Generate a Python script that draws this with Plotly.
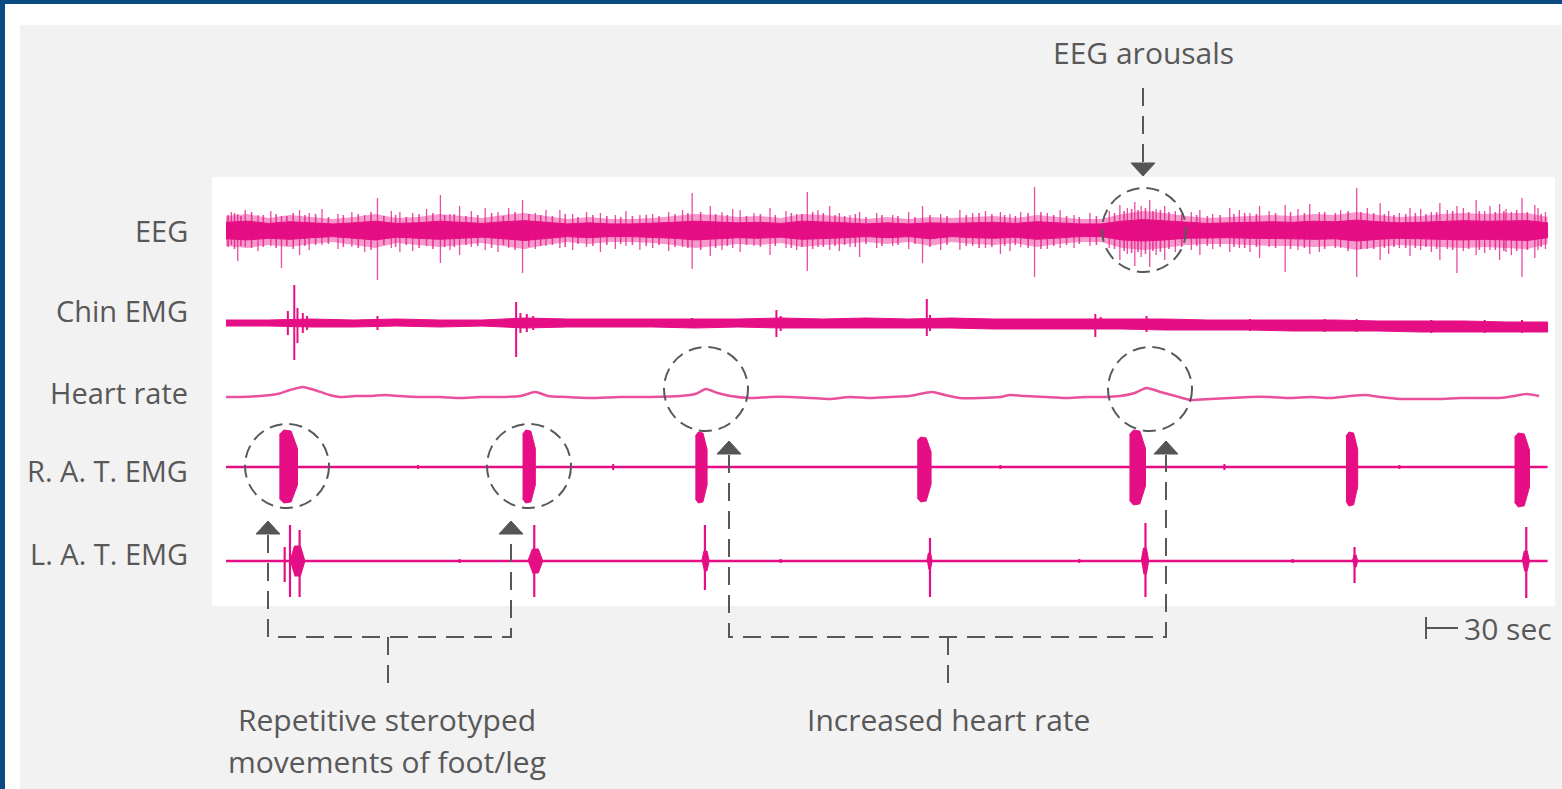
import plotly.graph_objects as go

# ---------------- DATA (time in seconds, amplitudes in display units, + = up) ----------------
channel_labels = ["EEG", "Chin EMG", "Heart rate", "R. A. T. EMG", "L. A. T. EMG"]

# EEG band: outer extent of the dense trace
eeg_t = [0, 20, 40, 60, 80, 100, 120, 140, 160, 180, 200, 220, 240, 260, 280, 300, 320, 340, 360, 380,
         400, 420, 440, 460, 480, 500, 520, 540, 560, 580, 600, 620, 640, 660, 680, 700, 720, 740, 760, 780,
         800, 820, 840, 860, 880, 900, 920, 940, 960, 980, 1000, 1020, 1040, 1060, 1080, 1100, 1120, 1140,
         1160, 1180, 1200, 1220, 1239]
eeg_hi = [14, 16, 12, 15, 13, 11, 13, 16, 12, 13, 16, 14, 12, 15, 17, 14, 11, 13, 11, 11,
          12, 14, 16, 15, 13, 14, 12, 16, 15, 13, 11, 13, 11, 13, 12, 13, 14, 12, 15, 13,
          11, 11, 16, 19, 17, 14, 12, 13, 14, 15, 14, 16, 15, 18, 15, 13, 14, 16,
          17, 16, 17, 17, 13]
eeg_lo = [16, 18, 15, 17, 14, 12, 15, 18, 13, 15, 17, 15, 13, 16, 19, 15, 12, 14, 12, 12,
          13, 15, 18, 16, 14, 15, 13, 17, 15, 14, 12, 14, 12, 16, 12, 14, 15, 13, 17, 14,
          12, 12, 18, 20, 18, 15, 14, 14, 15, 16, 16, 17, 16, 20, 17, 15, 16, 17,
          18, 17, 18, 19, 14]
# EEG spikes: time, up, down
eeg_spk_t = [11, 52, 69, 142, 163, 201, 219, 243, 278, 313, 351, 388, 437, 454, 482, 510, 545, 566, 594,
             653, 688, 726, 758, 782, 838, 852, 866, 880, 913, 941, 969, 993, 1016, 1060, 1082, 1110,
             1138, 1154, 1172, 1194, 1215, 1227,
             5, 18, 30, 42, 78, 90, 105, 118, 130, 155, 175, 188, 210, 230, 255, 265, 290, 300, 325, 338,
             365, 375, 400, 415, 428, 465, 475, 495, 525, 535, 555, 575, 585, 610, 625, 640, 670, 700,
             712, 735, 745, 770, 795, 810, 828, 845, 858, 872, 890, 905, 925, 950, 960, 978, 1005, 1025,
             1045, 1070, 1090, 1100, 1120, 1130, 1145, 1160, 1180, 1185, 1200, 1205, 1230, 1237]
eeg_spk_up = [16, 14, 20, 32, 18, 35, 24, 22, 30, 20, 17, 15, 37, 24, 20, 22, 38, 24, 18,
              24, 20, 18, 43, 20, 25, 28, 30, 24, 20, 22, 24, 25, 26, 42, 27, 22,
              27, 24, 30, 26, 32, 25,
              18, 20, 15, 19, 17, 21, 16, 18, 15, 19, 17, 21, 16, 19, 18, 22, 17, 20, 16, 18,
              15, 19, 16, 18, 20, 18, 21, 17, 19, 16, 20, 17, 15, 17, 15, 18, 16, 17,
              19, 16, 18, 17, 15, 17, 19, 22, 24, 21, 19, 18, 16, 20, 17, 19, 21, 18,
              20, 22, 19, 17, 21, 18, 20, 22, 19, 24, 21, 18, 22, 18]
eeg_spk_dn = [31, 38, 25, 50, 22, 33, 25, 20, 43, 18, 22, 20, 39, 26, 22, 25, 41, 20, 27,
              33, 20, 24, 47, 18, 30, 36, 37, 30, 25, 22, 28, 42, 24, 47, 30, 26,
              30, 43, 25, 30, 47, 28,
              15, 17, 21, 16, 20, 15, 19, 17, 22, 18, 21, 16, 20, 17, 22, 18, 19, 16, 20, 17,
              19, 16, 18, 21, 17, 20, 18, 16, 18, 20, 17, 21, 17, 18, 16, 19, 20, 16,
              18, 21, 17, 19, 18, 16, 18, 24, 27, 25, 22, 20, 19, 18, 22, 17, 20, 22,
              18, 19, 24, 18, 20, 22, 19, 21, 23, 20, 22, 25, 20, 19]
# EEG fine hairs (short excursions just beyond the dense band)
eeg_hair_t = [2, 8, 14, 24, 35, 47, 57, 63, 74, 84, 96, 110, 124, 136, 148, 159, 169, 181, 194, 205,
              214, 225, 236, 249, 260, 271, 284, 295, 306, 318, 330, 344, 357, 370, 381, 394, 406, 421,
              433, 445, 459, 470, 488, 501, 515, 530, 540, 550, 560, 571, 580, 590, 600, 615, 630, 646,
              660, 676, 694, 706, 718, 730, 740, 752, 764, 776, 788, 800, 816, 833, 842, 849, 855, 862,
              869, 876, 884, 896, 910, 920, 932, 945, 955, 966, 984, 998, 1011, 1030, 1040, 1052, 1064,
              1076, 1086, 1095, 1106, 1115, 1125, 1135, 1150, 1165, 1175, 1190, 1198, 1210, 1220, 1233]
eeg_hair_up = [15, 17, 14, 18, 15, 16, 14, 17, 15, 16, 13, 15, 16, 18, 14, 15, 13, 16, 17, 15,
               16, 14, 15, 17, 14, 18, 16, 15, 14, 16, 13, 15, 14, 13, 14, 15, 14, 16,
               17, 18, 16, 15, 14, 16, 15, 17, 16, 18, 17, 15, 14, 16, 13, 15, 14, 13,
               15, 14, 15, 17, 16, 15, 14, 17, 18, 15, 14, 13, 14, 17, 19, 21, 20, 22,
               19, 20, 18, 16, 15, 14, 15, 16, 17, 16, 17, 18, 17, 18, 17, 19, 18,
               17, 16, 15, 16, 17, 16, 18, 19, 18, 19, 18, 19, 20, 18, 16]
eeg_hair_dn = [17, 19, 16, 18, 17, 18, 16, 19, 16, 15, 14, 17, 18, 20, 15, 17, 15, 18, 19, 17,
               17, 15, 16, 18, 15, 20, 17, 16, 15, 17, 14, 16, 15, 14, 15, 16, 15, 17,
               18, 20, 18, 16, 15, 17, 16, 18, 17, 19, 17, 16, 15, 17, 14, 16, 15, 14,
               17, 15, 16, 18, 17, 16, 15, 18, 19, 16, 15, 14, 15, 19, 21, 23, 22, 24,
               21, 22, 19, 17, 16, 16, 17, 17, 18, 17, 18, 19, 18, 19, 18, 21, 19,
               19, 18, 17, 18, 18, 17, 19, 20, 19, 20, 20, 21, 21, 20, 17]

# Chin EMG envelope and spikes
chin_t = [0, 40, 80, 120, 160, 200, 240, 280, 320, 360, 400, 440, 480, 520, 560, 600, 640, 680, 720, 760,
          800, 840, 880, 920, 960, 1000, 1040, 1080, 1120, 1160, 1200, 1239]
chin_hi = [3, 3, 4, 3, 4, 3, 3, 5, 4, 4, 4, 4, 4, 5, 4, 5, 4, 5, 4, 4, 4, 4, 4, 3, 3, 3, 3, 2, 2, 2, 1, 1]
chin_lo = [3, 3, 4, 4, 3, 4, 3, 5, 4, 4, 4, 5, 4, 5, 5, 5, 5, 5, 6, 6, 6, 6, 7, 7, 7, 8, 8, 8, 9, 9, 9, 9]
chin_spk_t = [58, 64, 67, 72, 76, 142, 272, 276, 282, 288, 437, 516, 520, 657, 660, 815, 820, 863,
              900, 960, 1030, 1060, 1130, 1180, 1215]
chin_spk_up = [12, 38, 15, 10, 7, 7, 21, 10, 9, 7, 5, 13, 7, 24, 8, 9, 6, 7, 4, 4, 4, 4, 3, 3, 3]
chin_spk_dn = [12, 37, 20, 10, 7, 7, 34, 10, 9, 7, 5, 14, 8, 13, 8, 14, 6, 9, 7, 8, 9, 9, 10, 10, 10]

# Heart rate trace
hr_t = [0, 13, 32, 48, 60, 72, 83, 97, 107, 121, 135, 149, 163, 182, 201, 219, 238, 257, 276, 290, 302,
        318, 341, 369, 398, 426, 440, 450, 461, 473, 491, 510, 529, 548, 566, 585, 604, 623, 641, 662,
        674, 688, 707, 726, 735, 749, 768, 787, 805, 824, 838, 852, 863, 876, 890, 904, 923, 941, 960,
        979, 998, 1016, 1035, 1054, 1068, 1082, 1101, 1119, 1138, 1157, 1176, 1194, 1208, 1219, 1231]
hr_v = [0, 0, 1, 3, 7, 10, 7, 2, 0, 1, 1, 2, 1, 0, 0, -1, 0, 0, 1, 5, 1,
        0, -1, 0, 0, 1, 3, 8, 4, 1, -1, 0, 0, -1, -2, 0, -1, 0, 1, 5,
        2, -1, -1, 0, 2, 1, 0, -1, 0, 0, 1, 4, 9, 5, 1, -3, -2, -1, 0,
        0, -1, 0, -1, 1, 2, 0, -2, -2, -2, -1, -1, -1, 1, 3, 1]

# Right anterior tibialis EMG bursts
rat_t0 = [50, 278, 440, 648, 847, 1050, 1208]
rat_t1 = [67, 290, 451, 661, 862, 1061, 1222]
rat_up = [37, 37, 35, 30, 37, 35, 34]
rat_dn = [36, 36, 36, 35, 38, 39, 40]
rat_blip_t = [180, 363, 726, 936, 1100]
rat_blip_a = [2, 3, 2, 3, 2]

# Left anterior tibialis EMG bursts
lat_t0 = [60, 283, 446, 657, 858, 1056, 1215]
lat_t1 = [74, 297, 453, 662, 865, 1061, 1222]
lat_core = [15, 12, 10, 8, 13, 6, 10]
lat_spk_t = [55, 60, 69, 289, 449, 660, 862, 1058, 1219]
lat_spk_up = [14, 36, 31, 36, 36, 23, 38, 14, 34]
lat_spk_dn = [21, 36, 36, 36, 29, 36, 36, 22, 37]
lat_blip_t = [219, 520, 800, 1000]
lat_blip_a = [2, 2, 2, 2]

T_END = 1239

# ---------------- LAYOUT / STYLE ----------------
W, H = 1562, 789
PX0 = 226            # pixel column of t = 0
SEC_PER_PX = 30 / 32  # 30 sec scale bar = 32 px
BASE = {"EEG": 230, "Chin EMG": 323, "Heart rate": 397, "R. A. T. EMG": 467, "L. A. T. EMG": 561}
LABEL_Y = {"EEG": 230, "Chin EMG": 310, "Heart rate": 392, "R. A. T. EMG": 470, "L. A. T. EMG": 553}
MAG = "#e60e84"
MAG_T = "rgba(230,14,132,0.75)"
MAG_FUZZ = "rgba(230,14,132,0.42)"
CORE = 0.55
HR_COL = "#e9519c"
GREY = "#585858"
FONT = "'Open Sans', Lato, sans-serif"


def X(px):
    return (px - PX0) * SEC_PER_PX


def band(t, hi, lo, base, k=1.0):
    xs = list(t) + list(t)[::-1]
    ys = [base - h * k for h in hi] + [base + l * k for l in lo][::-1]
    return xs, ys


def spikes(t, up, dn, base):
    xs, ys = [], []
    for ti, u, d in zip(t, up, dn):
        xs += [ti, ti, None]
        ys += [base - u, base + d, None]
    return xs, ys


fig = go.Figure()

# EEG: translucent outer band, solid core, hairs, spikes
bx, by = band(eeg_t, eeg_hi, eeg_lo, BASE["EEG"])
fig.add_trace(go.Scatter(x=bx, y=by, mode="lines", fill="toself", fillcolor=MAG_FUZZ,
                         line=dict(color="rgba(0,0,0,0)", width=0), hoverinfo="skip"))
bx, by = band(eeg_t, eeg_hi, eeg_lo, BASE["EEG"], CORE)
fig.add_trace(go.Scatter(x=bx, y=by, mode="lines", fill="toself", fillcolor=MAG,
                         line=dict(color=MAG, width=1), hoverinfo="skip"))
sx, sy = spikes(eeg_hair_t, eeg_hair_up, eeg_hair_dn, BASE["EEG"])
fig.add_trace(go.Scatter(x=sx, y=sy, mode="lines", line=dict(color=MAG_T, width=1.6), hoverinfo="skip"))
sx, sy = spikes(eeg_spk_t, eeg_spk_up, eeg_spk_dn, BASE["EEG"])
fig.add_trace(go.Scatter(x=sx, y=sy, mode="lines", line=dict(color=MAG_T, width=1.3), hoverinfo="skip"))

# Chin EMG
bx, by = band(chin_t, chin_hi, chin_lo, BASE["Chin EMG"])
fig.add_trace(go.Scatter(x=bx, y=by, mode="lines", fill="toself", fillcolor=MAG,
                         line=dict(color=MAG, width=1), hoverinfo="skip"))
sx, sy = spikes(chin_spk_t, chin_spk_up, chin_spk_dn, BASE["Chin EMG"])
fig.add_trace(go.Scatter(x=sx, y=sy, mode="lines", line=dict(color=MAG, width=2), hoverinfo="skip"))

# Heart rate
fig.add_trace(go.Scatter(x=hr_t, y=[BASE["Heart rate"] - v for v in hr_v], mode="lines",
                         line=dict(color=HR_COL, width=2.5, shape="spline", smoothing=0.6), hoverinfo="skip"))

# R.A.T. EMG
b = BASE["R. A. T. EMG"]
fig.add_trace(go.Scatter(x=[0, T_END], y=[b, b], mode="lines", line=dict(color=MAG, width=2.5), hoverinfo="skip"))
sx, sy = spikes(rat_blip_t, rat_blip_a, rat_blip_a, b)
fig.add_trace(go.Scatter(x=sx, y=sy, mode="lines", line=dict(color=MAG, width=2), hoverinfo="skip"))
px_, py_ = [], []
for t0, t1, u, d in zip(rat_t0, rat_t1, rat_up, rat_dn):
    w = t1 - t0
    pts = [(t0, u * 0.88), (t0 + 0.25 * w, u), (t1 - 0.35 * w, u * 0.97), (t1, u * 0.5),
           (t1, -d * 0.5), (t1 - 0.35 * w, -d * 0.97), (t0 + 0.25 * w, -d), (t0, -d * 0.88)]
    px_ += [p[0] for p in pts] + [None]
    py_ += [b - p[1] for p in pts] + [None]
fig.add_trace(go.Scatter(x=px_, y=py_, mode="lines", fill="toself", fillcolor=MAG,
                         line=dict(color=MAG, width=1), hoverinfo="skip"))

# L.A.T. EMG
b = BASE["L. A. T. EMG"]
fig.add_trace(go.Scatter(x=[0, T_END], y=[b, b], mode="lines", line=dict(color=MAG, width=2.5), hoverinfo="skip"))
sx, sy = spikes(lat_blip_t, lat_blip_a, lat_blip_a, b)
fig.add_trace(go.Scatter(x=sx, y=sy, mode="lines", line=dict(color=MAG, width=2), hoverinfo="skip"))
px_, py_ = [], []
for t0, t1, c in zip(lat_t0, lat_t1, lat_core):
    w = t1 - t0
    pts = [(t0, 0), (t0 + 0.3 * w, c), (t1 - 0.3 * w, c), (t1, 0), (t1 - 0.3 * w, -c), (t0 + 0.3 * w, -c)]
    px_ += [p[0] for p in pts] + [None]
    py_ += [b - p[1] for p in pts] + [None]
fig.add_trace(go.Scatter(x=px_, y=py_, mode="lines", fill="toself", fillcolor=MAG,
                         line=dict(color=MAG, width=1), hoverinfo="skip"))
sx, sy = spikes(lat_spk_t, lat_spk_up, lat_spk_dn, b)
fig.add_trace(go.Scatter(x=sx, y=sy, mode="lines", line=dict(color=MAG, width=2.2), hoverinfo="skip"))

# ---------------- Backgrounds, annotations ----------------
shapes = []


def rect(x0, y0, x1, y1, col):
    shapes.append(dict(type="rect", xref="x", yref="y", x0=X(x0), x1=X(x1), y0=y0, y1=y1,
                       fillcolor=col, line=dict(width=0), layer="below"))


rect(5, 4, W, H, "#ffffff")
rect(20, 25, W, H, "#f2f2f2")
rect(212, 177, 1555, 606, "#ffffff")

DASH = "18px,10px"


def dline(pts, dash=DASH):
    path = "M " + " L ".join(f"{X(a)},{b_}" for a, b_ in pts)
    shapes.append(dict(type="path", xref="x", yref="y", path=path,
                       line=dict(color=GREY, width=2, dash=dash)))


def circle(cx, cy, r):
    shapes.append(dict(type="circle", xref="x", yref="y", x0=X(cx - r), x1=X(cx + r), y0=cy - r, y1=cy + r,
                       line=dict(color=GREY, width=2, dash="13px,7px")))


def head(tx, ty, direction):
    h = 13 if direction == "up" else -13
    path = f"M {X(tx)},{ty} L {X(tx - 12)},{ty + h} L {X(tx + 12)},{ty + h} Z"
    shapes.append(dict(type="path", xref="x", yref="y", path=path, fillcolor="#555555",
                       line=dict(color="#555555", width=1)))


circle(1144, 230, 42)
circle(706, 389, 42)
circle(1150, 389, 42)
circle(287, 466, 42)
circle(529, 466, 42)

dline([(1143, 88), (1143, 162)])
head(1143, 176, "down")

dline([(268, 535), (268, 637), (511, 637), (511, 535)])
dline([(388, 637), (388, 688)])
head(268, 521, "up")
head(511, 521, "up")

dline([(729, 455), (729, 637), (1166, 637), (1166, 455)])
dline([(948, 637), (948, 688)])
head(729, 441, "up")
head(1166, 441, "up")

# 30 sec scale bar
shapes.append(dict(type="line", xref="x", yref="y", x0=X(1426), x1=X(1426), y0=617, y1=639,
                   line=dict(color=GREY, width=2)))
shapes.append(dict(type="line", xref="x", yref="y", x0=X(1426), x1=X(1458), y0=628, y1=628,
                   line=dict(color=GREY, width=2)))

annotations = []


def text(s, x, y, anchor="center", size=30):
    annotations.append(dict(text=s, x=X(x), y=y, xref="x", yref="y", showarrow=False,
                            xanchor=anchor, yanchor="middle",
                            font=dict(family=FONT, size=size, color=GREY)))


for lab in channel_labels:
    text(lab, 190, LABEL_Y[lab], anchor="right", size=29)
text("EEG arousals", 1143, 52)
text("30 sec", 1462, 628, anchor="left")
text("Repetitive sterotyped", 387, 719)
text("movements of foot/leg", 387, 761)
text("Increased heart rate", 948, 719)

fig.update_layout(
    width=W, height=H, margin=dict(l=0, r=0, t=0, b=0),
    paper_bgcolor="#0c4a84", plot_bgcolor="rgba(0,0,0,0)", showlegend=False,
    xaxis=dict(range=[X(0), X(W)], visible=False, fixedrange=True),
    yaxis=dict(range=[H, 0], visible=False, fixedrange=True),
    shapes=shapes, annotations=annotations,
)

fig.write_html("out.html", config={"displayModeBar": False, "staticPlot": True},
               post_script="document.body.style.margin='0px';document.body.style.overflow='hidden';")
